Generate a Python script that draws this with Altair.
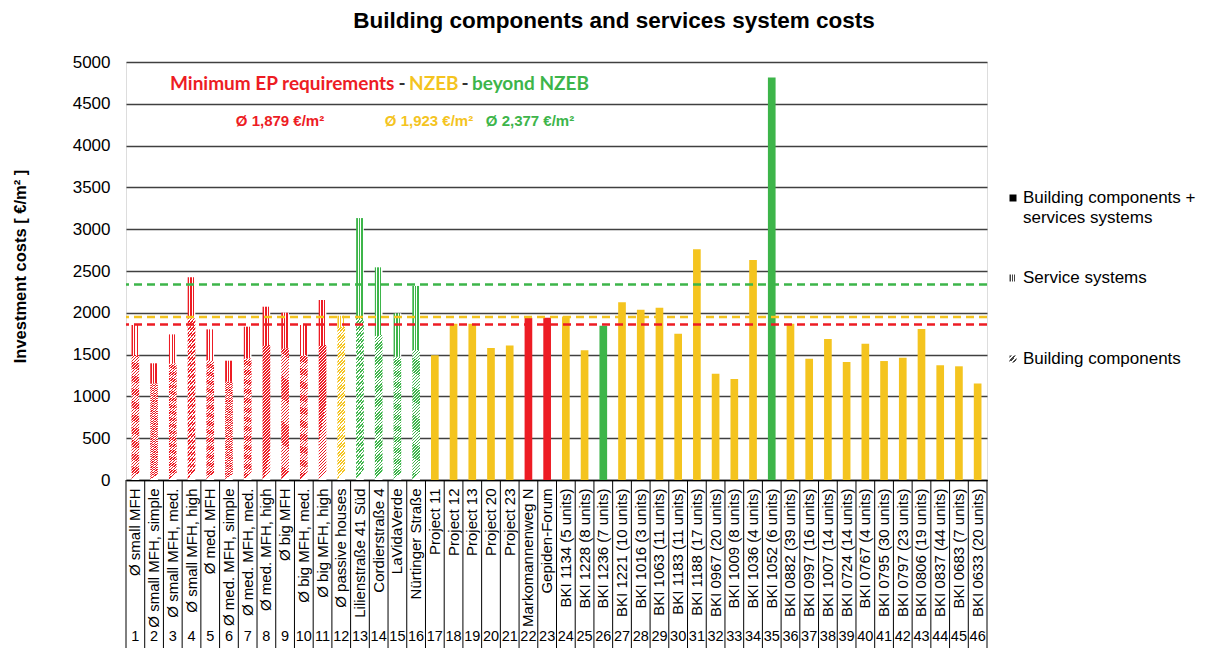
import altair as alt
import pandas as pd

# ---------------- data ----------------
names = [
    "Ø small MFH", "Ø small MFH, simple", "Ø small MFH, med.", "Ø small MFH, high",
    "Ø med. MFH", "Ø med. MFH, simple", "Ø med. MFH, med.", "Ø med. MFH, high",
    "Ø big MFH", "Ø big MFH, med.", "Ø big MFH, high", "Ø passive houses",
    "Lilienstraße 41 Süd", "Cordierstraße 4", "LaVidaVerde", "Nürtinger Straße",
    "Project 11", "Project 12", "Project 13", "Project 20", "Project 23",
    "Markomannenweg N", "Gepiden-Forum",
    "BKI 1134 (5 units)", "BKI 1228 (8 units)", "BKI 1236 (7 units)", "BKI 1221 (10 units)",
    "BKI 1016 (3 units)", "BKI 1063 (11 units)", "BKI 1183 (11 units)", "BKI 1188 (17 units)",
    "BKI 0967 (20 units)", "BKI 1009 (8 units)", "BKI 1036 (4 units)", "BKI 1052 (6 units)",
    "BKI 0882 (39 units)", "BKI 0997 (16 units)", "BKI 1007 (14 units)", "BKI 0724 (14 units)",
    "BKI 0767 (4 units)", "BKI 0795 (30 units)", "BKI 0797 (23 units)", "BKI 0806 (19 units)",
    "BKI 0837 (44 units)", "BKI 0683 (7 units)", "BKI 0633 (20 units)",
]
numbers = list(range(1, 47))

groups = (["min"] * 11 + ["nzeb"] + ["beyond"] * 4 + ["nzeb"] * 5 + ["min"] * 2
          + ["nzeb"] * 2 + ["beyond"] + ["nzeb"] * 8 + ["beyond"] + ["nzeb"] * 11)

totals = [1854, 1396, 1742, 2424, 1802, 1427, 1834, 2073, 2001, 1854, 2153, 1965,
          3133, 2544, 1994, 2321,
          1491, 1869, 1869, 1578, 1610, 1940, 1940, 1955, 1551, 1845, 2127, 2036,
          2060, 1750, 2759, 1272, 1209, 2632, 4815, 1869, 1451, 1686, 1412, 1630,
          1423, 1463, 1805, 1372, 1360, 1153]

# building components share of bars 1-16 (rest = service systems)
building = [1495, 1156, 1396, 1934, 1435, 1176, 1455, 1615, 1575, 1495, 1615, 1830,
            1925, 1734, 1475, 1555]

avg_groups = ["min", "nzeb", "beyond"]
avg_lines = [1860, 1950, 2340]

group_domain = ["min", "nzeb", "beyond"]
RED, YELLOW, GREEN = "#ED1C24", "#F4C41F", "#3DB54A"
group_colors = [RED, YELLOW, GREEN]

rows = []
for i, (n, g, t) in enumerate(zip(names, groups, totals)):
    if i < len(building):
        rows.append({"name": n, "group": g, "seg": "bc", "y0": 0, "y1": building[i]})
        rows.append({"name": n, "group": g, "seg": "ss", "y0": building[i], "y1": t})
    else:
        rows.append({"name": n, "group": g, "seg": "all", "y0": 0, "y1": t})
bars = pd.DataFrame(rows)
labels_df = pd.DataFrame({"name": names, "num": [str(k) for k in numbers]})
avg_df = pd.DataFrame({"grp": avg_groups, "val": avg_lines})
one = pd.DataFrame({"k": [0]})

# ---------------- styles ----------------
W, H = 861, 418
FONT = "Liberation Sans"


def stripes(color, n, x2, y2, frac=0.5, bg="white"):
    stops = []
    for k in range(n):
        a, b, c = k / n, (k + frac) / n, (k + 1) / n
        stops += [
            {"offset": round(a, 5), "color": color},
            {"offset": round(b, 5), "color": color},
            {"offset": round(b, 5), "color": bg},
            {"offset": round(c, 5), "color": bg},
        ]
    return {"gradient": "linear", "x1": 0, "y1": 0, "x2": x2, "y2": y2, "stops": stops}


def hatch(color):
    return stripes(color, 45, 0.056, 1, 0.5)


def checker(color):
    return stripes(color, 3, 1, 0, 0.55)


color_scale = alt.Scale(domain=group_domain, range=group_colors)
x_scale = alt.Scale(paddingInner=0, paddingOuter=0)
x_axis = alt.Axis(title=None, labelAngle=-90, labelFontSize=15, labelFont=FONT,
                  labelColor="black", labelPadding=8, ticks=False, domain=True,
                  domainColor="black", domainWidth=1.5, labelLimit=300, grid=False)
y_scale = alt.Scale(domain=[0, 5000], nice=False)
y_axis = alt.Axis(values=list(range(0, 5001, 500)), format="d", grid=True,
                  gridColor="#404040", gridWidth=1.3, domain=False, ticks=False,
                  labelFontSize=17, labelFont=FONT, labelColor="black", labelPadding=16,
                  title="Investment costs  [ €/m² ]", titleFont=FONT, titleFontSize=16.5,
                  titleFontWeight="bold", titleColor="black", titleX=-106, titleY=204,
                  titleAngle=270, titleAlign="center", titleBaseline="middle")

X = alt.X("name:N", sort=names, scale=x_scale, axis=x_axis)
Y = alt.Y("y1:Q", scale=y_scale, axis=y_axis)
Y2 = alt.Y2("y0:Q")
BW = {"band": 0.41}

base = alt.Chart(bars)
layers = []

# patterned (stacked) bars 1-16
for g, col in zip(group_domain, group_colors):
    layers.append(
        base.transform_filter(f"datum.seg === 'bc' && datum.group === '{g}'")
        .mark_bar(fill=hatch(col), width=BW)
        .encode(x=X, y=Y, y2=Y2)
    )
    layers.append(
        base.transform_filter(f"datum.seg === 'ss' && datum.group === '{g}'")
        .mark_bar(fill=checker(col), width=BW)
        .encode(x=X, y=Y, y2=Y2)
    )

# solid bars
layers.append(
    base.transform_filter("datum.seg === 'all'")
    .mark_bar(width=BW)
    .encode(x=X, y=Y, y2=Y2,
            color=alt.Color("group:N", scale=color_scale, legend=None))
)

# average lines
layers.append(
    alt.Chart(avg_df).mark_rule(strokeDash=[8, 5], strokeWidth=2.5)
    .encode(y=alt.Y("val:Q", scale=y_scale, axis=y_axis),
            color=alt.Color("grp:N", scale=color_scale, legend=None))
)

# category separators below the axis
layers.append(
    alt.Chart(labels_df).mark_rule(color="black", strokeWidth=1)
    .encode(x=alt.X("name:N", sort=names, scale=x_scale, axis=x_axis, bandPosition=0),
            y=alt.value(H), y2=alt.value(H + 200))
)
layers.append(
    alt.Chart(one).mark_rule(color="black", strokeWidth=1)
    .encode(x=alt.value(W), y=alt.value(H), y2=alt.value(H + 200))
)

# running numbers
layers.append(
    alt.Chart(labels_df).mark_text(fontSize=14.5, font=FONT, color="black", baseline="middle")
    .encode(x=X, y=alt.value(H + 157), text="num:N")
)


def txt(s, x, y, color, size, weight="bold", font=FONT, align="center", baseline="middle"):
    return (alt.Chart(one)
            .mark_text(text=s, color=color, fontSize=size, fontWeight=weight, font=font,
                       align=align, baseline=baseline)
            .encode(x=alt.value(x), y=alt.value(y)))


# chart title
layers.append(txt("Building components and services system costs", 488, -34, "black", 22.5,
                  baseline="alphabetic"))

# annotations
layers += [
    txt("Minimum EP requirements", 44, 22, RED, 19, font="Lato", align="left"),
    txt("-", 276, 22, "#333333", 19, font="Lato"),
    txt("NZEB", 283, 22, YELLOW, 19, font="Lato", align="left"),
    txt("-", 339, 22, "#333333", 19, font="Lato"),
    txt("beyond NZEB", 346, 22, GREEN, 19, font="Lato", align="left"),
    txt("Ø 1,879 €/m²", 154, 59, RED, 15),
    txt("Ø 1,923 €/m²", 303, 59, YELLOW, 15),
    txt("Ø 2,377 €/m²", 404, 59, GREEN, 15),
]

# custom legend
layers += [
    alt.Chart(one).mark_rect(fill="black")
    .encode(x=alt.value(883.5), x2=alt.value(890.5), y=alt.value(132.5), y2=alt.value(139.5)),
    alt.Chart(one).mark_rect(fill=checker("#444444"))
    .encode(x=alt.value(883.5), x2=alt.value(890.5), y=alt.value(212.5), y2=alt.value(219.5)),
    alt.Chart(one).mark_rect(fill=stripes("#444444", 3, 1, 1))
    .encode(x=alt.value(883.5), x2=alt.value(890.5), y=alt.value(293.5), y2=alt.value(300.5)),
    txt("Building components +", 897, 136, "black", 17, weight="normal", align="left"),
    txt("services systems", 897, 156, "black", 17, weight="normal", align="left"),
    txt("Service systems", 897, 216, "black", 17, weight="normal", align="left"),
    txt("Building components", 897, 297, "black", 17, weight="normal", align="left"),
]

chart = (
    alt.layer(*layers)
    .properties(width=W, height=H,
                padding={"left": 118, "top": 54, "right": 216, "bottom": 168},
                autosize=alt.AutoSizeParams(type="none"))
    .configure_view(stroke="#333333", strokeWidth=1.5)
    .configure(background="white")
)

chart.save("out.html", embed_options={"renderer": "svg", "actions": False})
